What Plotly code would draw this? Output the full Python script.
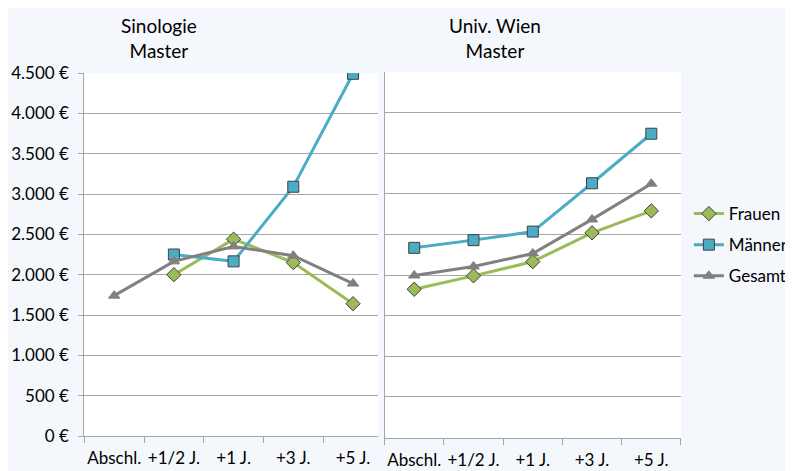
import plotly.graph_objects as go

# page is offset by the browser's 8px body margin
OFF = 8
W, H = 785, 463

categories = ["Abschl.", "+1/2 J.", "+1 J.", "+3 J.", "+5 J."]

sino_frauen = [None, 2000, 2440, 2150, 1640]
sino_maenner = [None, 2250, 2165, 3090, 4490]
sino_gesamt = [1740, 2165, 2350, 2235, 1890]

wien_frauen = [1825, 1990, 2165, 2520, 2790]
wien_maenner = [2335, 2430, 2535, 3130, 3740]
wien_gesamt = [1995, 2105, 2265, 2685, 3125]

y_ticks = [0, 500, 1000, 1500, 2000, 2500, 3000, 3500, 4000, 4500]
y_tick_labels = ["0 €", "500 €", "1.000 €", "1.500 €", "2.000 €", "2.500 €",
                 "3.000 €", "3.500 €", "4.000 €", "4.500 €"]

series_names = ["Frauen", "Männer", "Gesamt"]
colors = {"Frauen": "#9bbb59", "Männer": "#4bacc6", "Gesamt": "#808080"}
symbols = {"Frauen": "diamond", "Männer": "square", "Gesamt": "triangle-up"}
msize = {"Frauen": 11, "Männer": 11, "Gesamt": 10}
mline = {"Frauen": "#404040", "Männer": "#404040", "Gesamt": "#808080"}

FONT = "Lato, Calibri, sans-serif"


def px(x):
    return (x - OFF) / W


def py(y):
    return 1 - (y - OFF) / H


fig = go.Figure()

panels = [
    ("x", "y", [sino_frauen, sino_maenner, sino_gesamt], False),
    ("x2", "y2", [wien_frauen, wien_maenner, wien_gesamt], True),
]
for xa, ya, data, show in panels:
    for name, vals in zip(series_names, data):
        fig.add_trace(go.Scatter(
            x=categories, y=vals, name=name, xaxis=xa, yaxis=ya,
            mode="lines+markers", legendgroup=name, showlegend=show,
            connectgaps=False,
            line=dict(color=colors[name], width=3),
            marker=dict(symbol=symbols[name], size=msize[name], color=colors[name],
                        line=dict(color=mline[name], width=1)),
        ))

grid = "#a6a6a6"
axis_common = dict(tickfont=dict(family=FONT, size=17, color="#000"),
                   showgrid=False, showline=True, linecolor=grid, linewidth=1,
                   ticks="outside", ticklen=6, tickcolor=grid, tickson="boundaries",
                   tickangle=0, ticklabelstandoff=7,
                   type="category", automargin=False, fixedrange=True,
                   categoryorder="array", categoryarray=categories)

cat_px = 60.25
left_w = 381 - 85
fig.update_layout(
    width=W, height=H,
    margin=dict(l=0, r=0, t=0, b=0),
    paper_bgcolor="#f4f7fc",
    plot_bgcolor="#ffffff",
    font=dict(family=FONT, size=17, color="#000"),
    xaxis=dict(domain=[px(85), px(381)], range=[-0.5, -0.5 + left_w / cat_px],
               anchor="y", **axis_common),
    xaxis2=dict(domain=[px(388), px(687)], range=[-0.5, 4.5],
                anchor="y2", **axis_common),
    yaxis=dict(domain=[py(436), py(73)], range=[0, 4500], tickvals=y_ticks,
               ticktext=y_tick_labels, showgrid=True, gridcolor=grid, gridwidth=1,
               zeroline=False, showline=True, linecolor=grid, ticks="outside",
               ticklen=5, tickcolor=grid, tickfont=dict(family=FONT, size=17, color="#000"),
               ticklabelstandoff=6, anchor="x", automargin=False, fixedrange=True),
    yaxis2=dict(domain=[py(437.5), py(72)], range=[0, 4500], tickvals=y_ticks,
                showticklabels=False, showgrid=True, gridcolor=grid, gridwidth=1,
                zeroline=False, showline=True, linecolor=grid, ticks="",
                anchor="x2", automargin=False, fixedrange=True),
    legend=dict(x=px(695), y=py(196), xanchor="left", yanchor="top",
                bgcolor="rgba(0,0,0,0)", font=dict(family=FONT, size=17, color="#000"),
                tracegroupgap=6, traceorder="grouped", itemwidth=30),
    showlegend=True,
)

fig.add_annotation(text="Sinologie<br>Master", x=px(160), y=py(38), xref="paper", yref="paper",
                   xanchor="center", yanchor="middle",
                   showarrow=False, font=dict(family=FONT, size=19, color="#000"))
fig.add_annotation(text="Univ. Wien<br>Master", x=px(499), y=py(38), xref="paper", yref="paper",
                   xanchor="center", yanchor="middle",
                   showarrow=False, font=dict(family=FONT, size=19, color="#000"))

fig.write_html("out.html")
